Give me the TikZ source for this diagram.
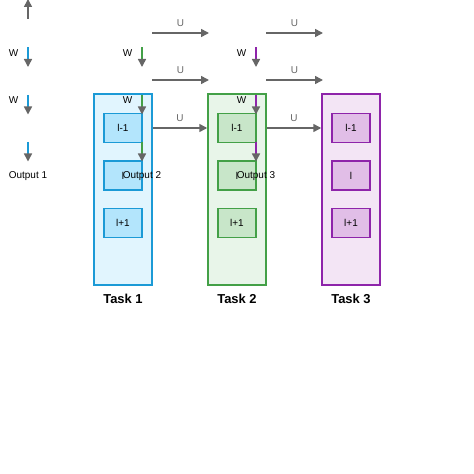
\documentclass[tikz,border=0pt]{standalone}
\usepackage{fontspec}
\setmainfont{Liberation Sans}
\usetikzlibrary{arrows.meta}
\definecolor{gris}{HTML}{666666}
\definecolor{bleu}{HTML}{1B9AD6}
\definecolor{bleuf}{HTML}{E1F5FE}
\definecolor{bleum}{HTML}{B3E5FC}
\definecolor{vert}{HTML}{43A047}
\definecolor{vertf}{HTML}{E8F5E9}
\definecolor{vertm}{HTML}{C8E6C9}
\definecolor{violet}{HTML}{8E24AA}
\definecolor{violetf}{HTML}{F3E5F5}
\definecolor{violetm}{HTML}{E1BEE7}

\begin{document}
\begin{tikzpicture}[x=1bp,y=-1bp,
  txt/.style={font=\fontsize{10}{12}\selectfont, inner sep=0pt},
  colbox/.style={draw, line width=1.5bp, minimum width=58bp, minimum height=191bp, inner sep=0pt},
  cell/.style={draw, line width=1.5bp, minimum width=38bp, minimum height=29bp, inner sep=0pt, font=\fontsize{10}{12}\selectfont},
  tache/.style={font=\fontsize{13}{15}\selectfont\bfseries, inner sep=0pt},
  fl/.style={line width=1.5bp, -{Triangle[length=8bp,width=8bp,color=gris]}}]
\useasboundingbox (0,0) rectangle (474,474);
% the three task columns
\foreach \i/\c in {1/bleu,2/vert,3/violet} {
  \node [colbox, draw=\c, fill=\c f] (t\i) at ({9+114*\i},189.5) {};
  \node [cell, draw=\c, fill=\c m] (t\i a) at ({9+114*\i},128) {l-1};
  \node [cell, draw=\c, fill=\c m] (t\i b) at ({9+114*\i},175.5) {l};
  \node [cell, draw=\c, fill=\c m] (t\i c) at ({9+114*\i},223) {l+1};
  \node [tache] (n\i) at ({9+114*\i},299) {Task \i};
}
% U arrows
\foreach \i/\j in {1/2,2/3} {
  \foreach \y/\k in {33/a,80/b,127/c} {
    \coordinate (u\i\k) at ({38+114*\i},\y);
    \coordinate (v\i\k) at ({95+114*\j-114},\y);
  }
  \draw [fl, gris] (u\i a) -- ++(57,0) node [txt, midway, above=6bp] {U};
  \draw [fl, gris] (u\i b) -- ++(57,0) node [txt, midway, above=6bp] {U};
  \draw [fl, gris] (t\i.east |- t\i a) -- (t\j.west |- t\j a) node [txt, midway, above=6bp] {U};
}
% W arrows going down
\foreach \k/\x/\c in {0/28/bleu,1/142/vert,2/256/violet} {
  \coordinate (w\k a) at (\x,47.5);
  \coordinate (w\k b) at (\x,95);
  \coordinate (w\k c) at (\x,142);
  \draw [fl, \c] (w\k a) -- ++(0,19.5);
  \draw [fl, \c] (w\k b) -- ++(0,19.5);
  \draw [fl, \c] (w\k c) -- ++(0,19.5);
  \node [txt] (lw\k a) at (\x-14.5,53) {W};
  \node [txt] (lw\k b) at (\x-14.5,100) {W};
  \pgfmathtruncatemacro{\m}{\k+1}
  \node [txt] (o\k) at (\x,176) {Output \m};
}
% arrow leaving the top
\coordinate (h0) at (28,19);
\draw [fl, gris] (h0) -- ++(0,-20);
\end{tikzpicture}
\end{document}
